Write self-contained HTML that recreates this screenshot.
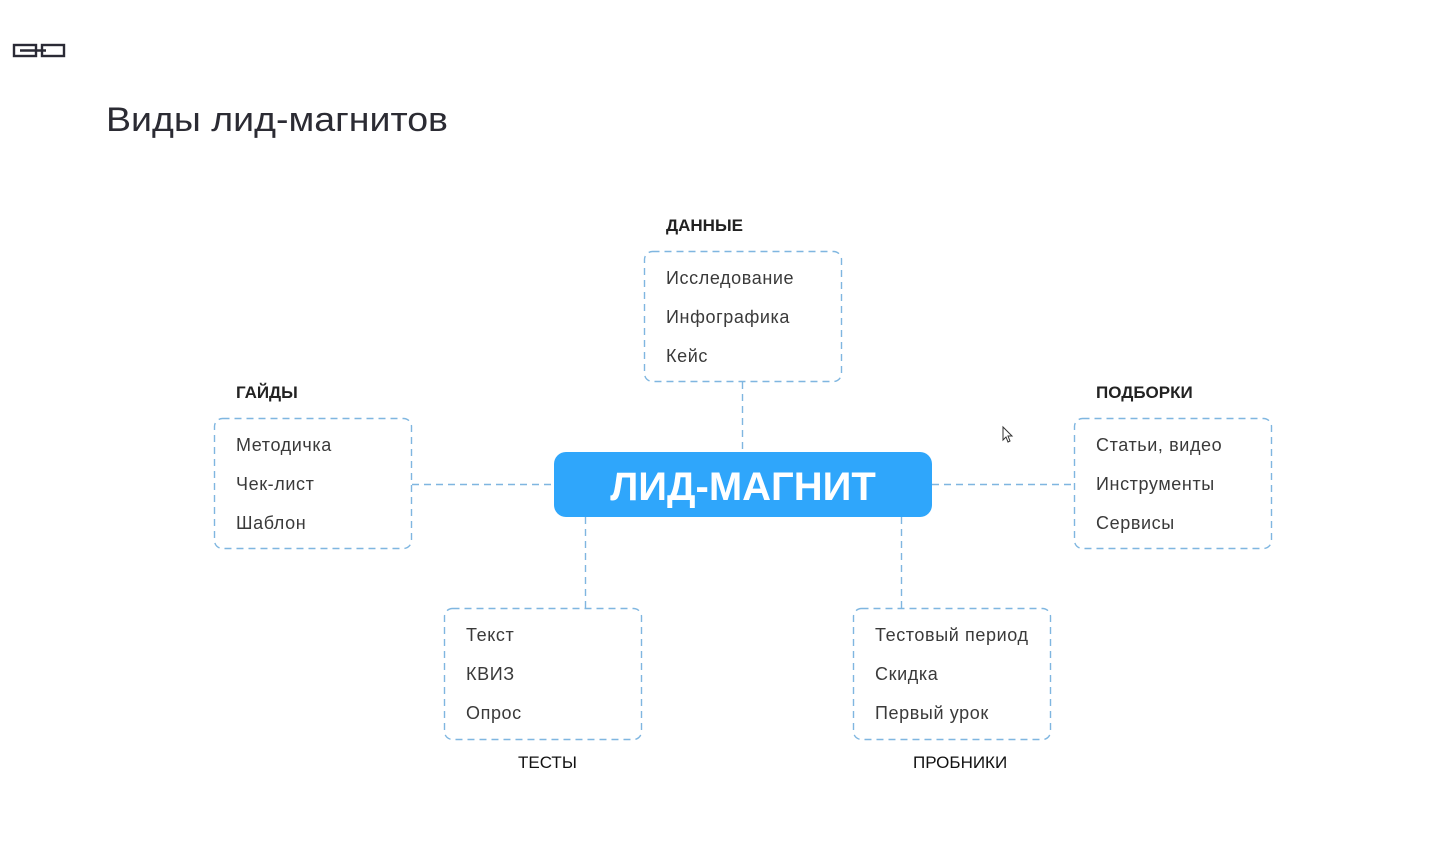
<!DOCTYPE html>
<html><head><meta charset="utf-8"><style>
body{margin:0;background:#fff;}
svg{display:block;font-family:"Liberation Sans","DejaVu Sans",sans-serif;}
.it{font-size:18px;fill:#3a3a3a;letter-spacing:0.6px;}
.h{font-size:17px;font-weight:bold;fill:#222;}
</style></head><body>
<svg width="1429" height="861" viewBox="0 0 1429 861">
<rect x="14" y="45" width="22" height="11" fill="none" stroke="#2a2a35" stroke-width="2.4"/>
<rect x="42" y="45" width="22" height="11" fill="none" stroke="#2a2a35" stroke-width="2.4"/>
<line x1="20" y1="50.5" x2="46" y2="50.5" stroke="#2a2a35" stroke-width="2.4"/>
<text x="106" y="131" font-size="34" fill="#2b2b33" textLength="342" lengthAdjust="spacingAndGlyphs">Виды лид-магнитов</text>
<g fill="none" stroke="#7fb6e0" stroke-width="1.4" stroke-dasharray="7 5">
<rect x="644.5" y="251.5" width="197" height="130" rx="8"/>
<rect x="214.5" y="418.5" width="197" height="130" rx="8"/>
<rect x="1074.5" y="418.5" width="197" height="130" rx="8"/>
<rect x="444.5" y="608.5" width="197" height="131" rx="8"/>
<rect x="853.5" y="608.5" width="197" height="131" rx="8"/>
<line x1="742.5" y1="382" x2="742.5" y2="452"/>
<line x1="412" y1="484.5" x2="554" y2="484.5"/>
<line x1="932" y1="484.5" x2="1074" y2="484.5"/>
<line x1="585.5" y1="517" x2="585.5" y2="608"/>
<line x1="901.5" y1="517" x2="901.5" y2="608"/>
</g>
<rect x="554" y="452" width="378" height="65" rx="12" fill="#2fa6fb"/>
<text x="743" y="500" text-anchor="middle" font-size="40" font-weight="bold" fill="#fff">ЛИД-МАГНИТ</text>
<text class="h" x="666" y="231">ДАННЫЕ</text>
<text class="it" x="666" y="284">Исследование</text>
<text class="it" x="666" y="323">Инфографика</text>
<text class="it" x="666" y="362">Кейс</text>
<text class="h" x="236" y="398">ГАЙДЫ</text>
<text class="it" x="236" y="451">Методичка</text>
<text class="it" x="236" y="490">Чек-лист</text>
<text class="it" x="236" y="529">Шаблон</text>
<text class="h" x="1096" y="398">ПОДБОРКИ</text>
<text class="it" x="1096" y="451">Статьи, видео</text>
<text class="it" x="1096" y="490">Инструменты</text>
<text class="it" x="1096" y="529">Сервисы</text>
<text class="it" x="466" y="641">Текст</text>
<text class="it" x="466" y="680">КВИЗ</text>
<text class="it" x="466" y="719">Опрос</text>
<text class="h" x="518" y="768" style="font-weight:normal;fill:#111">ТЕСТЫ</text>
<text class="it" x="875" y="641">Тестовый период</text>
<text class="it" x="875" y="680">Скидка</text>
<text class="it" x="875" y="719">Первый урок</text>
<text class="h" x="913" y="768" style="font-weight:normal;fill:#111">ПРОБНИКИ</text>
<path d="M1003 427 L1003 440 L1006 437 L1008 442 L1010 441 L1008 436 L1012 436 Z" fill="#fff" stroke="#333" stroke-width="1"/>
</svg>
</body></html>
